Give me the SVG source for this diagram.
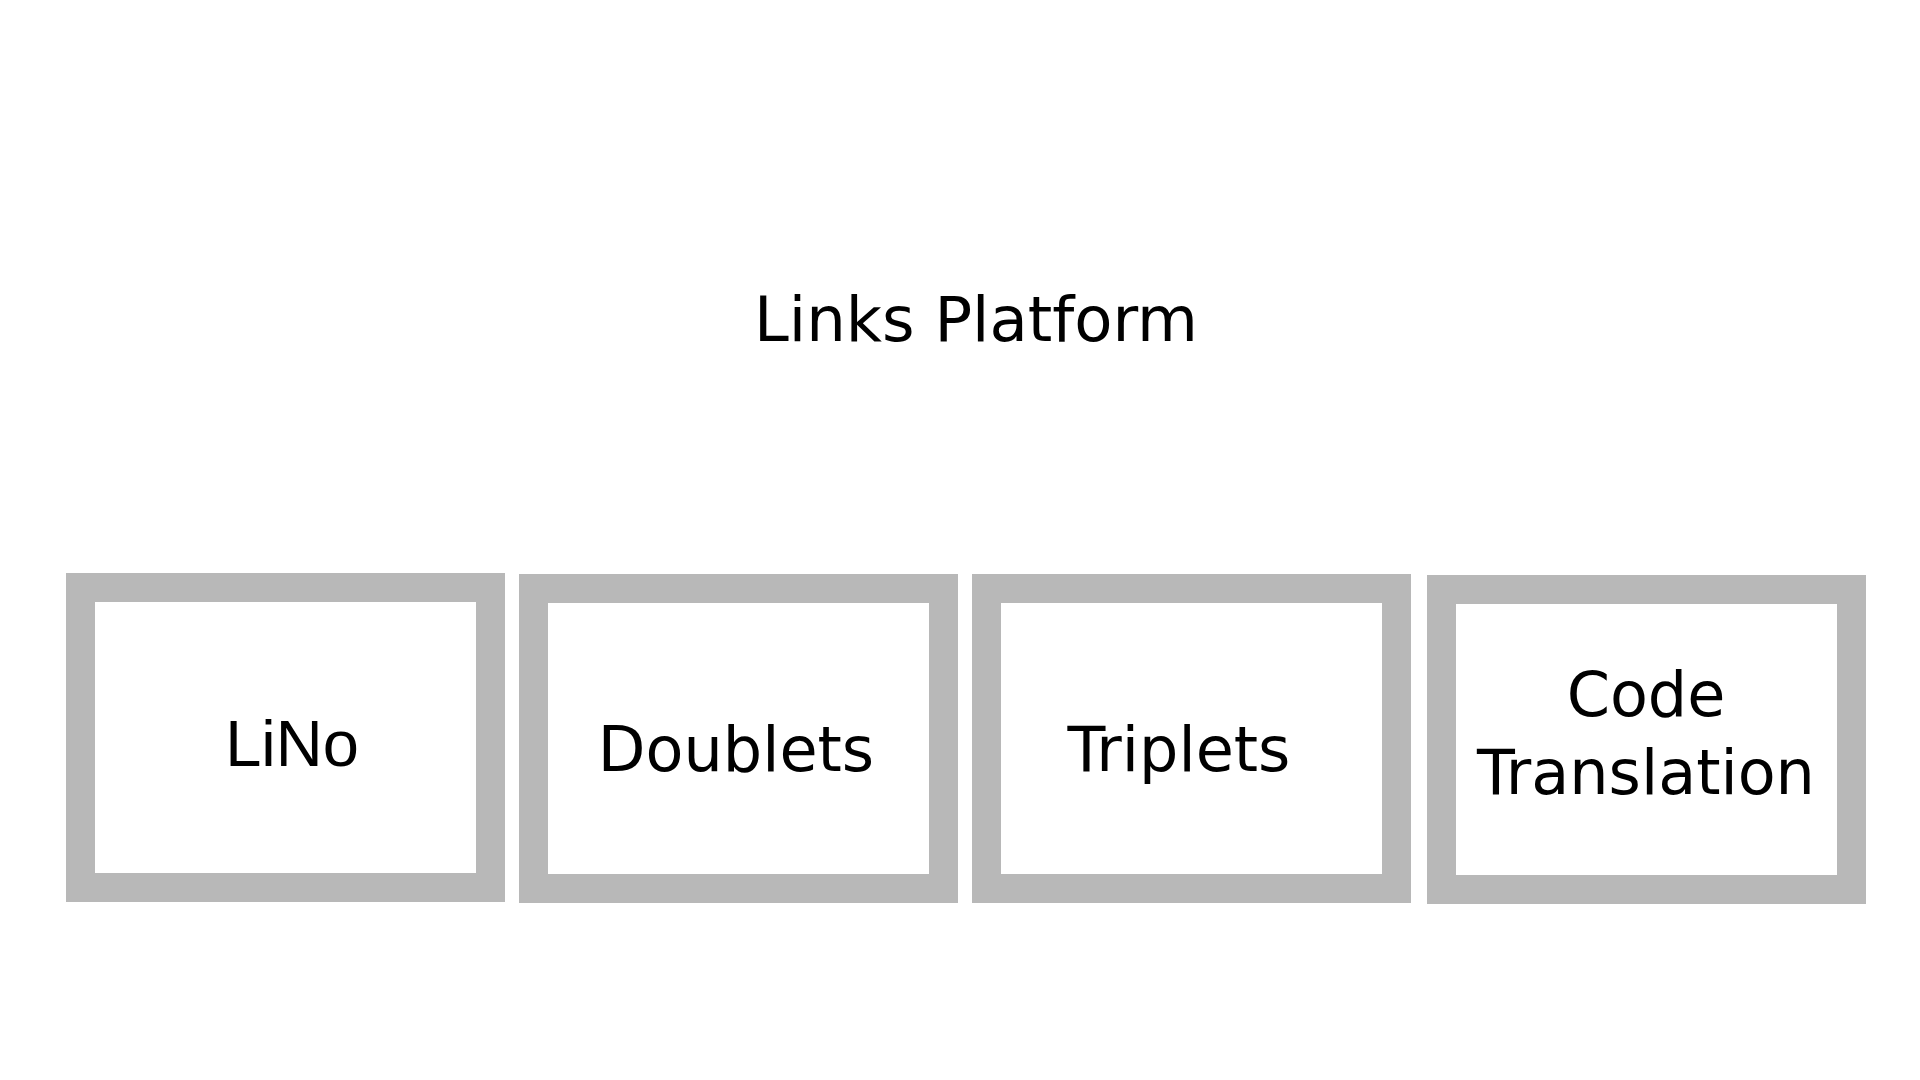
<svg xmlns="http://www.w3.org/2000/svg" width="1920" height="1080" viewBox="0 0 1920 1080">
<style>
.box{fill:#ffffff;stroke:#b8b8b8;stroke-width:29}
.lbl{font-family:"DejaVu Sans",Verdana,sans-serif;font-size:62px;fill:#000;text-anchor:middle}
.arial{font-family:"Liberation Sans",Arial,sans-serif;font-size:65px;fill:#000;text-anchor:middle}
.title{font-family:"DejaVu Sans",Verdana,sans-serif;font-size:62.5px;fill:#000;text-anchor:middle}
</style>
<rect width="1920" height="1080" fill="#ffffff"/>
<g id="title"><text class="title" x="976" y="341">Links Platform</text></g>
<g id="connectors"></g>
<g id="lino">
<rect class="box" x="80.5" y="587.5" width="410" height="300"/>
<text class="arial" x="292" y="766">LiNo</text>
</g>
<g id="doublets">
<rect class="box" x="533.5" y="588.5" width="410" height="300"/>
<text class="lbl" x="736" y="771">Doublets</text>
</g>
<g id="triplets">
<rect class="box" x="986.5" y="588.5" width="410" height="300"/>
<text class="lbl" x="1179" y="771">Triplets</text>
</g>
<g id="code-translation">
<rect class="box" x="1441.5" y="589.5" width="410" height="300"/>
<text class="lbl" x="1646" y="716">Code</text>
<text class="lbl" x="1646" y="794">Translation</text>
</g>
</svg>
